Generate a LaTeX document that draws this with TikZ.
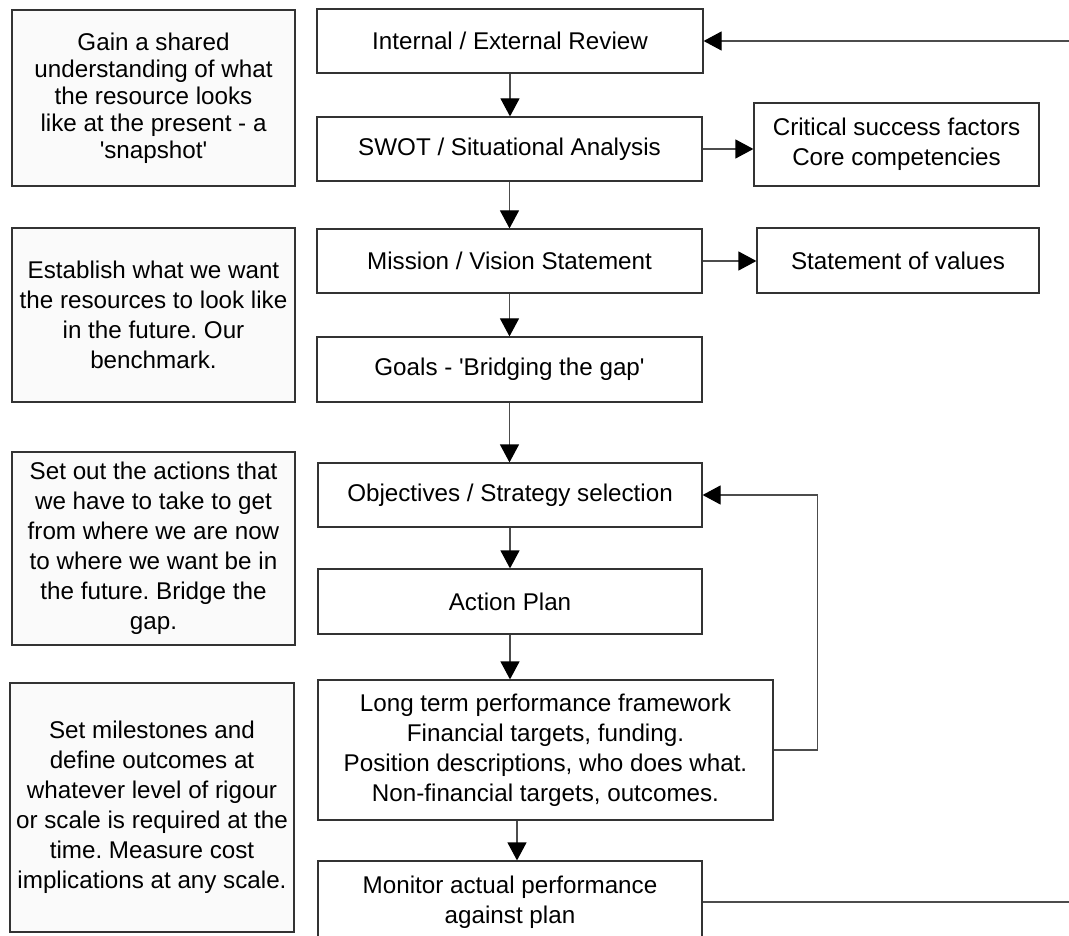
\documentclass[tikz,border=0pt]{standalone}
\usepackage{fontspec}
\setmainfont{Liberation Sans}
\usetikzlibrary{arrows.meta}
\frenchspacing
\begin{document}
\begin{tikzpicture}[x=1pt,y=-1pt,
  stage/.style={draw=black!80, line width=1.2pt, fill=white, inner sep=0pt,
    align=center, font=\fontsize{24.2}{30}\selectfont},
  note/.style={stage, fill=black!2, minimum width=283pt},
  wire/.style={draw=black!70, line width=1.2pt},
  link/.style={wire, -{Triangle[length=18pt,width=19pt,color=black,fill=black]}}]
\useasboundingbox (0,0) rectangle (1069,936);
\clip (0,0) rectangle (1069,936);

% explanatory notes on the left
\node[note, minimum height=176pt, font=\fontsize{24.2}{27}\selectfont] (n1) at (153.5,98)
  {Gain a shared\\understanding of what\\the resource looks\\like at the present - a\\\textquotesingle snapshot\textquotesingle};
\node[note, minimum height=174pt] (n2) at (153.5,315)
  {Establish what we want\\the resources to look like\\in the future. Our\\benchmark.};
\node[note, minimum height=193pt] (n3) at (153.5,548.5)
  {Set out the actions that\\we have to take to get\\from where we are now\\to where we want be in\\the future. Bridge the\\gap.};
\node[note, minimum width=284pt, minimum height=249pt] (n4) at (152,807.5)
  {Set milestones and\\define outcomes at\\whatever level of rigour\\or scale is required at the\\time. Measure cost\\implications at any scale.};

% planning stages
\node[stage, minimum width=386pt, minimum height=64pt] (review) at (510,41) {Internal / External Review};
\node[stage, minimum width=385pt, minimum height=64pt] (swot) at (509.5,149) {SWOT / Situational Analysis};
\node[stage, minimum width=285pt, minimum height=83pt] (csf) at (896.5,144.5) {Critical success factors\\Core competencies};
\node[stage, minimum width=385pt, minimum height=64pt] (mission) at (509.5,261) {Mission / Vision Statement};
\node[stage, minimum width=282pt, minimum height=65pt] (values) at (898,260.5) {Statement of values};
\node[stage, minimum width=385pt, minimum height=65pt] (goals) at (509.5,369.5) {Goals - \textquotesingle Bridging the gap\textquotesingle};
\node[stage, minimum width=384pt, minimum height=64pt] (objectives) at (510,495) {Objectives / Strategy selection};
\node[stage, minimum width=384pt, minimum height=65pt] (action) at (510,601.5) {Action Plan};
\node[stage, minimum width=455pt, minimum height=140pt] (framework) at (545.5,750)
  {Long term performance framework\\Financial targets, funding.\\Position descriptions, who does what.\\Non-financial targets, outcomes.};
\node[stage, minimum width=384pt, minimum height=82pt] (monitor) at (510,902)
  {Monitor actual performance\\against plan};

% loose ends at the right margin
\coordinate (inR) at (1069,41);
\coordinate (outR) at (1069,902);

% connectors
\draw[link] (inR) -- (review.east);
\draw[link] (review.south) -- (review.south |- swot.north);
\draw[link] (swot.east) -- (csf.west |- swot.east);
\draw[link] (swot.south) -- (swot.south |- mission.north);
\draw[link] (mission.east) -- (values.west |- mission.east);
\draw[link] (mission.south) -- (mission.south |- goals.north);
\draw[link] (goals.south) -- (goals.south |- objectives.north);
\draw[link] (objectives.south) -- (objectives.south |- action.north);
\draw[link] (action.south) -- (action.south |- framework.north);
\draw[link] (framework.east) -- ++(44,0) |- (objectives.east);
\draw[link] ([xshift=-28.5pt]framework.south) -- ([xshift=-28.5pt]framework.south |- monitor.north);
\draw[wire] (monitor.east) -- (outR);
\end{tikzpicture}
\end{document}
